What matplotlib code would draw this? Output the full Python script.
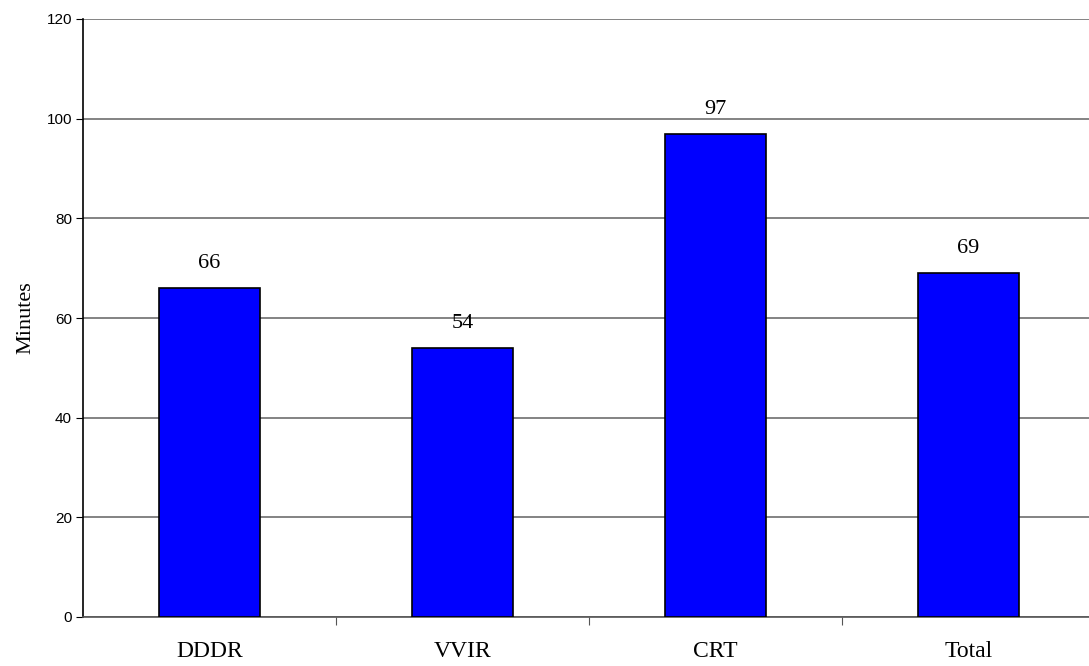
import matplotlib
matplotlib.use("Agg")
from matplotlib import pyplot as plt

categories = ['DDDR', 'VVIR', 'CRT', 'Total']
minutes = [66, 54, 97, 69]
yticks = [0, 20, 40, 60, 80, 100, 120]

fig = plt.figure(figsize=(10.89, 6.66), dpi=100)
ax = fig.add_axes([83 / 1089, 49 / 666, 1012 / 1089, 598 / 666])

x = list(range(len(categories)))
ax.bar(x, minutes, width=0.4, color='#0000ff', edgecolor='black', linewidth=1.2, zorder=3)

for xi, v in zip(x, minutes):
    ax.text(xi, v + 3.0, str(v), ha='center', va='bottom',
            family='Liberation Serif', fontsize=16)

ax.set_xlim(-0.5, len(categories) - 0.5)
ax.set_ylim(0, 120)
ax.set_yticks(yticks)
ax.set_yticklabels([str(t) for t in yticks], family='Liberation Sans', fontsize=11)

# category ticks sit between the bars, labels under the bars
ax.set_xticks([i + 0.5 for i in x[:-1]])
ax.set_xticklabels([])
ax.set_xticks(x, minor=True)
ax.set_xticklabels(categories, minor=True, family='Liberation Serif', fontsize=17)
ax.tick_params(axis='x', which='minor', length=0, pad=17)
ax.tick_params(axis='x', which='major', length=6, color='#555555', direction='out')
ax.tick_params(axis='y', length=5, color='black', pad=3)

ax.yaxis.grid(True, color='#6e6e6e', linewidth=1.2, zorder=0)
ax.set_axisbelow(True)
for side in ['top', 'right']:
    ax.spines[side].set_visible(False)
ax.spines['left'].set_color('black')
ax.spines['left'].set_linewidth(1.2)
ax.spines['bottom'].set_color('#555555')
ax.spines['bottom'].set_linewidth(1.2)

ax.set_ylabel('Minutes', family='Liberation Serif', fontsize=16, labelpad=8)

plt.savefig('out.png', dpi=100)
